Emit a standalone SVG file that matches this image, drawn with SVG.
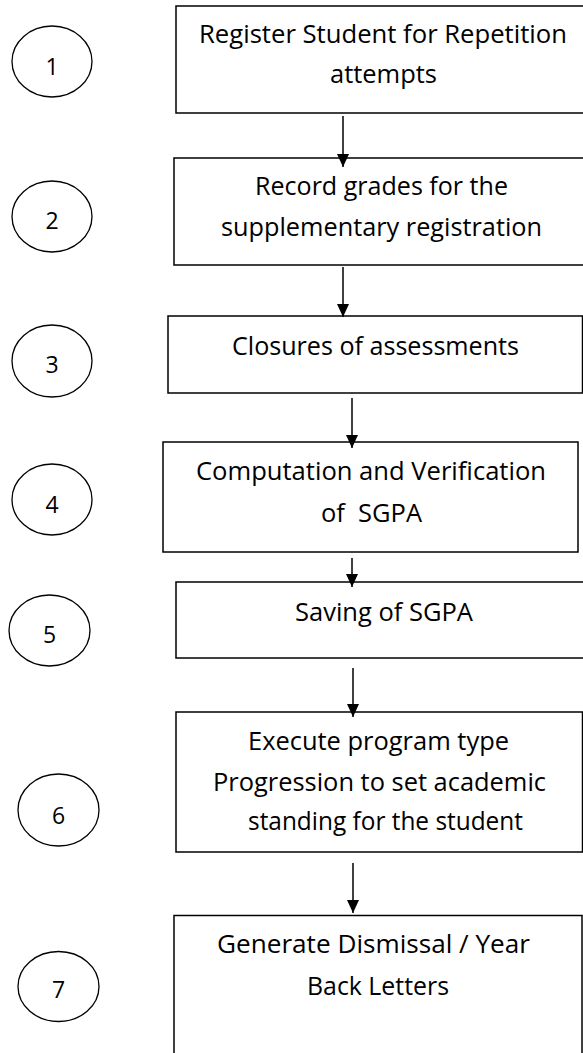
<svg xmlns="http://www.w3.org/2000/svg" width="583" height="1053" viewBox="0 0 583 1053">
<style>
.box{fill:#fff;stroke:#000;stroke-width:1.5}
.step{fill:#fff;stroke:#000;stroke-width:1.3}
.t{font-family:"Open Sans","Noto Sans","Liberation Sans",sans-serif;font-size:25.5px;fill:#000;text-anchor:middle}
.n{font-size:23px}
.conn{stroke:#000;stroke-width:1.5;fill:none}
</style>
<defs>
<marker id="ah" viewBox="0 0 13 12" refX="13" refY="6" markerWidth="13" markerHeight="12" markerUnits="userSpaceOnUse" orient="auto">
<path d="M0,0 L13,6 L0,12 z" fill="#000"/>
</marker>
</defs>
<rect width="583" height="1053" fill="#fff"/>
<g id="c1"><ellipse class="step" cx="52" cy="61.5" rx="40" ry="35.5"/><text class="t n" x="52" y="75">1</text></g>
<g id="c2"><ellipse class="step" cx="52" cy="216.5" rx="40" ry="35.5"/><text class="t n" x="52" y="229">2</text></g>
<g id="c3"><ellipse class="step" cx="52" cy="361" rx="40" ry="36"/><text class="t n" x="52" y="373">3</text></g>
<g id="c4"><ellipse class="step" cx="52" cy="499.5" rx="40" ry="35.5"/><text class="t n" x="52" y="513">4</text></g>
<g id="c5"><ellipse class="step" cx="49.5" cy="630.5" rx="40.5" ry="35.5"/><text class="t n" x="49.5" y="643">5</text></g>
<g id="c6"><ellipse class="step" cx="58.5" cy="810" rx="40.5" ry="36"/><text class="t n" x="58.5" y="824">6</text></g>
<g id="c7"><ellipse class="step" cx="58.5" cy="986.5" rx="40.5" ry="35"/><text class="t n" x="58.5" y="998">7</text></g>

<g id="b1"><rect class="box" x="176" y="6" width="410" height="107"/>
<text class="t" x="383" y="43" textLength="368" lengthAdjust="spacingAndGlyphs">Register Student for Repetition</text>
<text class="t" x="383.5" y="83" textLength="107" lengthAdjust="spacingAndGlyphs">attempts</text></g>
<g id="b2"><rect class="box" x="174" y="158" width="412" height="107"/>
<text class="t" x="381.5" y="195" textLength="253" lengthAdjust="spacingAndGlyphs">Record grades for the</text>
<text class="t" x="381.5" y="236" textLength="321" lengthAdjust="spacingAndGlyphs">supplementary registration</text></g>
<g id="b3"><rect class="box" x="168" y="316" width="414.5" height="77"/>
<text class="t" x="375.5" y="355" textLength="287" lengthAdjust="spacingAndGlyphs">Closures of assessments</text></g>
<g id="b4"><rect class="box" x="163" y="442" width="415" height="110"/>
<text class="t" x="371" y="480" textLength="350" lengthAdjust="spacingAndGlyphs">Computation and Verification</text>
<text class="t" x="371.5" y="522" xml:space="preserve" textLength="101" lengthAdjust="spacingAndGlyphs">of  SGPA</text></g>
<g id="b5"><rect class="box" x="176" y="582" width="410" height="76"/>
<text class="t" x="384" y="621" textLength="178" lengthAdjust="spacingAndGlyphs">Saving of SGPA</text></g>
<g id="b6"><rect class="box" x="176" y="712" width="406.5" height="140"/>
<text class="t" x="378.5" y="750" textLength="261" lengthAdjust="spacingAndGlyphs">Execute program type</text>
<text class="t" x="379.5" y="791" textLength="333" lengthAdjust="spacingAndGlyphs">Progression to set academic</text>
<text class="t" x="385.5" y="830" textLength="275" lengthAdjust="spacingAndGlyphs">standing for the student</text></g>
<g id="b7"><rect class="box" x="174" y="915.5" width="408" height="150"/>
<text class="t" x="373.5" y="953" textLength="313" lengthAdjust="spacingAndGlyphs">Generate Dismissal / Year</text>
<text class="t" x="378" y="995" textLength="142" lengthAdjust="spacingAndGlyphs">Back Letters</text></g>

<g id="connectors">
<line class="conn" x1="343" y1="116" x2="343" y2="167" marker-end="url(#ah)"/>
<line class="conn" x1="343" y1="267" x2="343" y2="317" marker-end="url(#ah)"/>
<line class="conn" x1="352" y1="398" x2="352" y2="448" marker-end="url(#ah)"/>
<line class="conn" x1="352" y1="558" x2="352" y2="587" marker-end="url(#ah)"/>
<line class="conn" x1="353" y1="668" x2="353" y2="717" marker-end="url(#ah)"/>
<line class="conn" x1="353" y1="863" x2="353" y2="913" marker-end="url(#ah)"/>
</g>
</svg>
